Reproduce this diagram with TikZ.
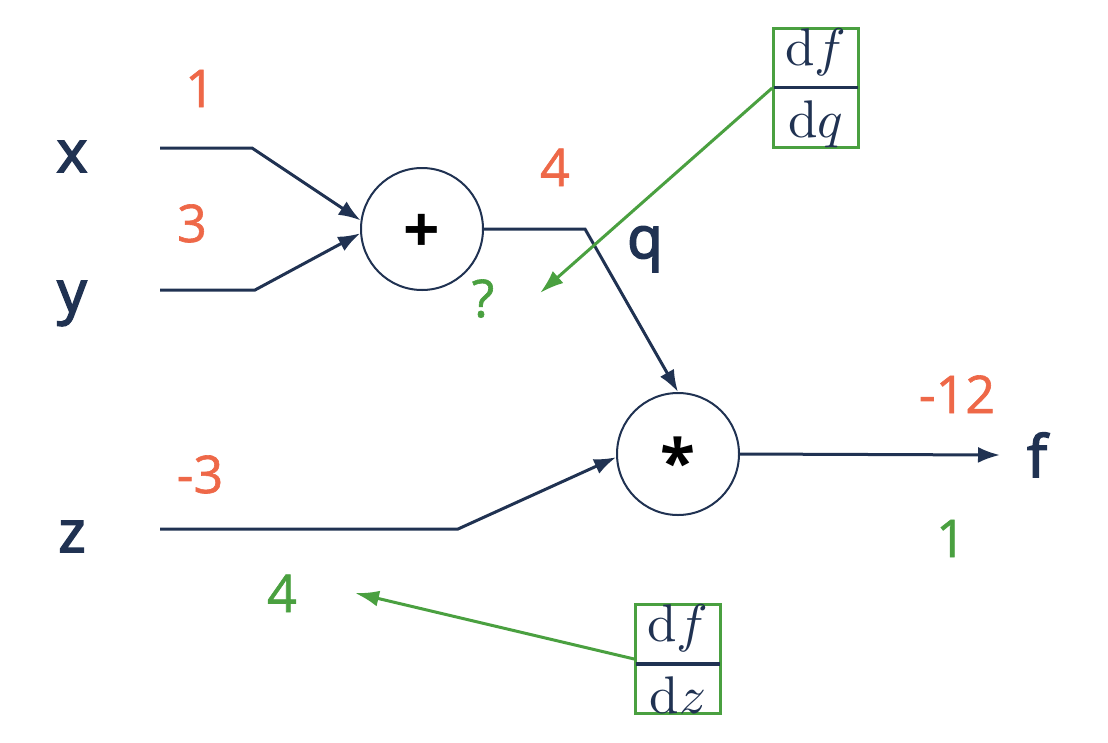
\RequirePackage{fix-cm}
\documentclass[tikz,border=0pt]{standalone}
\usepackage[no-math]{fontspec}
\usepackage{graphicx}
\setmainfont{Open Sans}
\newfontfamily\valfont{Open Sans}[FakeBold=1.2]
\newfontfamily\varfont{Open Sans}[FakeBold=3]
\usetikzlibrary{arrows.meta}
\definecolor{navy}{RGB}{32,50,82}
\definecolor{valcol}{RGB}{238,104,72}
\definecolor{gradcol}{RGB}{74,160,64}
\newcommand{\dfrac}[2]{\scalebox{5.3}{\nulldelimiterspace=0pt$\displaystyle{\mkern4mu\mathrm{d}#1\mkern4mu \above 0.65pt \mkern4mu\mathrm{d}#2\mkern4mu}$}}
\tikzset{
  var/.style={text=navy, font=\fontsize{58}{60}\varfont, anchor=base, inner sep=0},
  fwd/.style={text=valcol, font=\fontsize{52}{60}\valfont, anchor=base, inner sep=0},
  bwd/.style={text=gradcol, font=\fontsize{52}{60}\valfont, anchor=base, inner sep=0},
  opsym/.style={text=black, font=\fontsize{64}{64}\selectfont\bfseries, anchor=base, inner sep=0},
  gate/.style={circle, draw=navy, line width=2pt, minimum size=122pt, inner sep=0},
  wire/.style={draw=navy, line width=3pt, -{Latex[length=22pt,width=16pt]}},
  grad/.style={draw=gradcol, line width=3pt, -{Latex[length=24pt,width=16pt]}},
  deriv/.style={draw=gradcol, line width=3pt, inner sep=0, text=navy}
}
\begin{document}
\begin{tikzpicture}[x=1pt,y=-1pt]
  \useasboundingbox (0,0) rectangle (1108,742);
  % gates
  \node[gate] (plus) at (422,229) {};
  \node[gate] (mult) at (678,454) {};
  \node[opsym] (plussym) at (422,252) {+};
  \node[opsym] (multsym) at (678,485) {*};

  % inputs and output
  \node[var] (x) at (72,172) {x};
  \node[var] (y) at (72,312) {y};
  \node[var] (z) at (72,552) {z};
  \node[var] (q) at (645,258) {q};
  \node[var] (f) at (1037,477) {f};

  % wire points
  \coordinate (xin) at (160,148);
  \coordinate (xbend) at (252,148);
  \coordinate (yin) at (160,290);
  \coordinate (ybend) at (255,290);
  \coordinate (zin) at (160,529);
  \coordinate (zbend) at (458,529);
  \coordinate (qbend) at (585,229);
  \coordinate (fout) at (1000,455);

  \draw[wire] (xin) -- (xbend) -- (plus.172);
  \draw[wire] (yin) -- (ybend) -- (plus.184);
  \draw[wire] (plus.east) -- (qbend) -- (mult.north);
  \draw[wire] (zin) -- (zbend) -- (mult.183);
  \draw[wire] (mult.east) -- (fout);

  % forward values
  \node[fwd] (vx) at (200,107) {1};
  \node[fwd] (vy) at (192,242) {3};
  \node[fwd] (vz) at (200,493) {-3};
  \node[fwd] (vq) at (555,186) {4};
  \node[fwd] (vf) at (957,413) {-12};

  % gradients
  \node[bwd] (gq) at (483,317) {?};
  \node[bwd] (gz) at (282,612) {4};
  \node[bwd] (gf) at (951,557) {1};

  \node[deriv] (dq) at (816,88) {\dfrac{f}{q}};
  \node[deriv] (dz) at (678,659) {\dfrac{f}{z}};
  \coordinate (dqend) at (540,293);
  \coordinate (dzend) at (355,593);
  \draw[grad] (dq.west) -- (dqend);
  \draw[grad] (dz.west) -- (dzend);
\end{tikzpicture}
\end{document}
